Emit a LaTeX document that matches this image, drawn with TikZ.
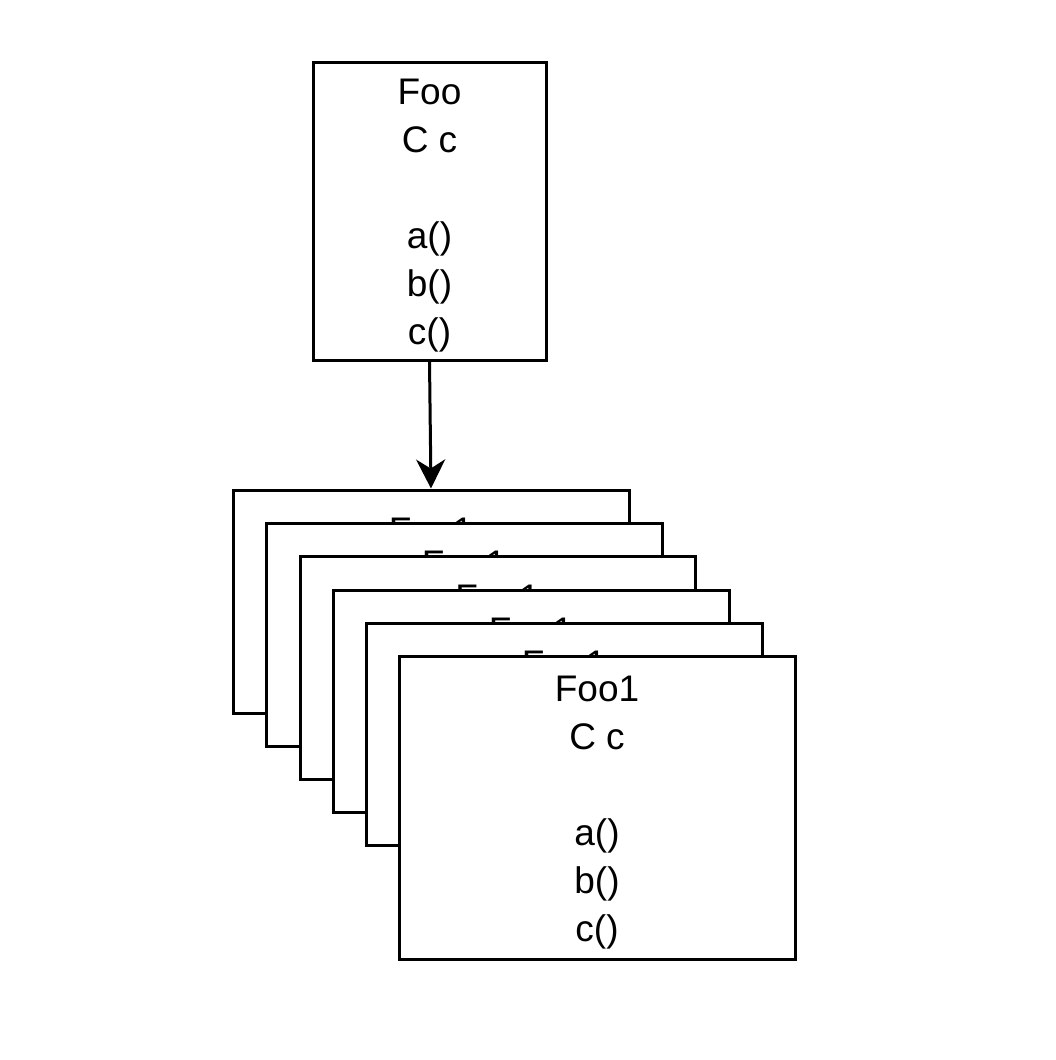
\documentclass[tikz,border=0pt]{standalone}
\usepackage{fontspec}
\setmainfont{Liberation Sans}
\usetikzlibrary{arrows.meta}
\begin{document}
\begin{tikzpicture}[x=1pt,y=-1pt,
  box/.style={draw=black,line width=3pt,fill=white,inner sep=0pt},
  txt/.style={inner sep=0pt,align=center,font=\fontsize{37}{48}\selectfont},
  lbl/.style={inner sep=0pt,anchor=base,font=\fontsize{37}{48}\selectfont},
  conn/.style={draw=black,line width=3pt,-{Stealth[length=29pt,width=29pt,inset=9pt]}}]
\useasboundingbox (0,0) rectangle (1056,1060);
% top class box
\node[box,minimum width=233pt,minimum height=298pt] (foo) at (429.5,211) {};
\node[txt] (footxt) at (429.5,216) {Foo\\C c\\\mbox{}\\a()\\b()\\c()};
% stacked boxes
\node[box,minimum width=396pt,minimum height=223pt] (b1) at (431,601.5) {};
\node[lbl] (t1) at (431,543) {Foo1};
\node[box,minimum width=396pt,minimum height=223pt] (b2) at (464,634.5) {};
\node[lbl] (t2) at (464,576) {Foo1};
\node[box,minimum width=395pt,minimum height=223pt] (b3) at (497.5,667.5) {};
\node[lbl] (t3) at (497.5,610) {Foo1};
\node[box,minimum width=396pt,minimum height=222pt] (b4) at (531,701) {};
\node[lbl] (t4) at (531,643) {Foo1};
\node[box,minimum width=396pt,minimum height=222pt] (b5) at (564,734) {};
\node[lbl] (t5) at (564,676) {Foo1};
\node[box,minimum width=396pt,minimum height=303pt] (b6) at (597,807.5) {};
\node[txt] (b6txt) at (597,813) {Foo1\\C c\\\mbox{}\\a()\\b()\\c()};
% connector
\draw[conn] (foo.south) -- (b1.north);
\end{tikzpicture}
\end{document}
